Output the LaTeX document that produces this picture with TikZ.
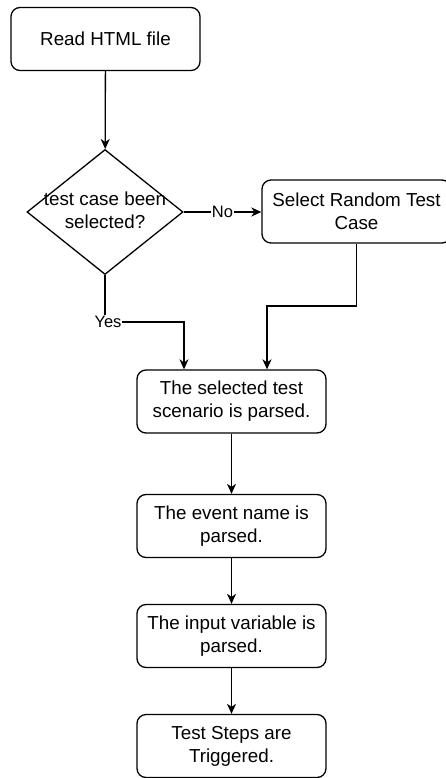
\documentclass[tikz,border=0pt]{standalone}
\usepackage{fontspec}
\setmainfont{Liberation Sans}
\usetikzlibrary{shapes.geometric,arrows.meta}
\begin{document}
\begin{tikzpicture}[x=1pt,y=-1pt,
  box/.style={draw,rounded corners=9pt,line width=1.3pt,minimum width=189pt,minimum height=63pt,align=center,inner sep=2pt,font=\fontsize{18.8}{23}\selectfont},
  decision/.style={draw,diamond,line width=1.3pt,minimum width=156pt,minimum height=125pt,inner sep=0pt},
  arrow/.style={line width=1.3pt,-{Stealth[length=10pt,width=9pt,inset=3pt]}},
  tag/.style={fill=white,inner sep=1pt,font=\fontsize{16.5}{19}\selectfont}]
  \useasboundingbox (0,0) rectangle (445,778);
  \node[box] (read) at (105.5,39) {Read HTML file};
  \node[decision,label={[font=\fontsize{18.8}{23}\selectfont,align=center,yshift=2pt]center:test case been\\selected?}] (dec) at (105,212) {};
  \node[box] (sel) at (356.5,211.5) {Select Random Test\\Case};
  \node[box] (scen) at (231.5,401.5) {The selected test\\scenario is parsed.};
  \node[box] (event) at (231.5,526) {The event name is\\parsed.};
  \node[box] (input) at (231.5,636) {The input variable is\\parsed.};
  \node[box] (steps) at (231.5,746) {Test Steps are\\Triggered.};
  \coordinate (selturn) at (267,306);
  \coordinate (yesturn) at (184,322);
  \draw[arrow] (read) -- (dec);
  \draw[arrow] (dec.east) -- node[tag]{No} (dec.east -| sel.west);
  \draw[arrow] (sel.south) |- (selturn) -- (selturn |- scen.north);
  \draw[arrow] (dec.south) |- node[tag,xshift=3pt]{Yes} (yesturn) -- (yesturn |- scen.north);
  \draw[arrow] (scen) -- (event);
  \draw[arrow] (event) -- (input);
  \draw[arrow] (input) -- (steps);
\end{tikzpicture}
\end{document}
